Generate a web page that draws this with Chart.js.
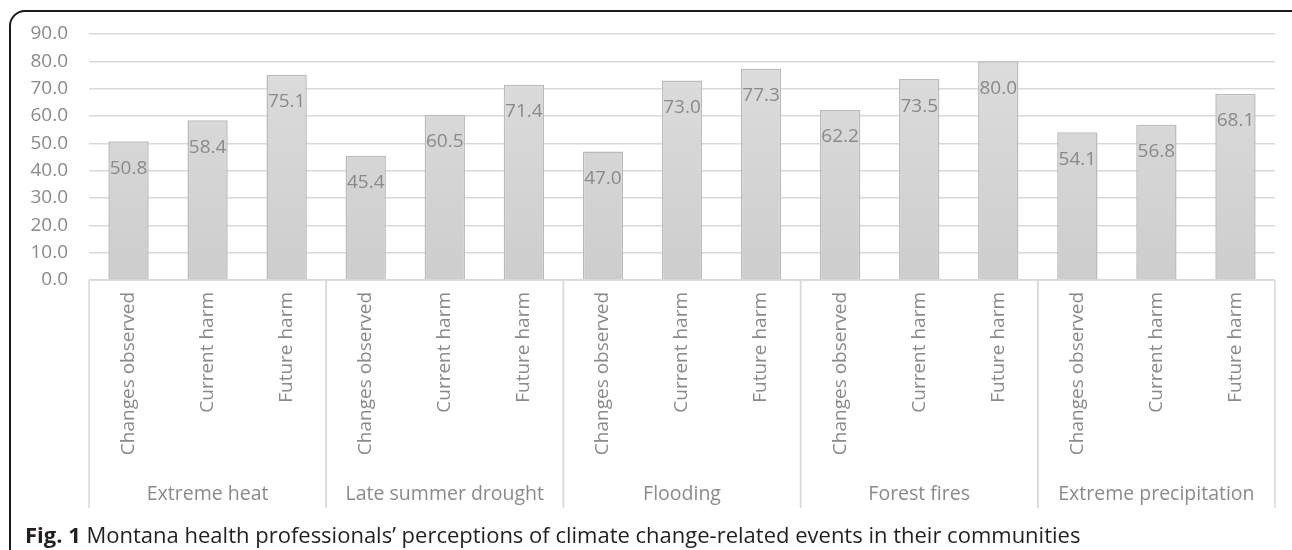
<!DOCTYPE html>
<html>
<head>
<meta charset="utf-8">
<script src="https://cdn.jsdelivr.net/npm/chart.js@4.4.1/dist/chart.umd.min.js"></script>
<style>
  html, body { margin: 0; padding: 0; background: #fff; }
  #wrap { position: relative; width: 1292px; height: 550px; overflow: hidden; }
  #frame {
    position: absolute; left: 9px; top: 10px; width: 1300px; height: 560px;
    border: 2px solid #1a1a1a; border-radius: 16px 16px 0 0; box-sizing: border-box;
  }
  #chart-box { position: absolute; left: 10px; top: 0; width: 1282px; height: 550px; }
  #caption {
    position: absolute; left: 25px; top: 519px; font-family: "Open Sans", sans-serif;
    font-size: 22px; letter-spacing: 0; color: #231f20; white-space: nowrap;
  }
</style>
</head>
<body>
<div id="wrap">
  <div id="frame"></div>
  <div id="chart-box"><canvas id="chart"></canvas></div>
  <div id="caption"><b>Fig. 1</b> Montana health professionals’ perceptions of climate change-related events in their communities</div>
</div>
<script>
// Event groups and the three measures asked for each
const groups = ['Extreme heat', 'Late summer drought', 'Flooding', 'Forest fires', 'Extreme precipitation'];
const measures = ['Changes observed', 'Current harm', 'Future harm'];
const percentages = [50.8, 58.4, 75.1, 45.4, 60.5, 71.4, 47.0, 73.0, 77.3, 62.2, 73.5, 80.0, 54.1, 56.8, 68.1];
const yTicks = [0, 10, 20, 30, 40, 50, 60, 70, 80, 90];

const labels = [];
groups.forEach(() => measures.forEach(m => labels.push(m)));

const textGrey = '#8a8a8a';
const fontFamily = '"Open Sans", sans-serif';

// value labels inside the top of each bar
const valueLabels = {
  id: 'valueLabels',
  afterDatasetsDraw(chart) {
    const { ctx } = chart;
    const meta = chart.getDatasetMeta(0);
    ctx.save();
    ctx.font = '19px ' + fontFamily;
    ctx.fillStyle = textGrey;
    ctx.textAlign = 'center';
    ctx.textBaseline = 'middle';
    meta.data.forEach((bar, i) => {
      ctx.fillText(percentages[i].toFixed(1), bar.x, bar.y + 27);
    });
    ctx.restore();
  }
};

// group labels and separators under the category axis
const groupAxis = {
  id: 'groupAxis',
  afterDraw(chart) {
    const { ctx, chartArea } = chart;
    const x = chart.scales.x;
    const half = (x.getPixelForValue(1) - x.getPixelForValue(0)) / 2;
    ctx.save();
    ctx.strokeStyle = '#d9d9d9';
    ctx.lineWidth = 1.5;
    ctx.font = '19.5px ' + fontFamily;
    ctx.fillStyle = textGrey;
    ctx.textAlign = 'center';
    ctx.textBaseline = 'middle';
    groups.forEach((g, gi) => {
      const first = gi * measures.length;
      const last = first + measures.length - 1;
      const left = x.getPixelForValue(first) - half;
      const right = x.getPixelForValue(last) + half;
      [left, right].forEach(px => {
        ctx.beginPath();
        ctx.moveTo(px, chartArea.bottom);
        ctx.lineTo(px, 508);
        ctx.stroke();
      });
      ctx.fillText(g, (left + right) / 2, 494);
    });
    // baseline of the category axis
    ctx.beginPath();
    ctx.moveTo(chartArea.left, chartArea.bottom);
    ctx.lineTo(chartArea.right, chartArea.bottom);
    ctx.stroke();
    ctx.restore();
  }
};

new Chart(document.getElementById('chart'), {
  type: 'bar',
  data: {
    labels: labels,
    datasets: [{
      data: percentages,
      borderColor: '#bababa',
      borderWidth: 1.5,
      borderSkipped: 'bottom',
      backgroundColor: (context) => {
        const { ctx, chartArea } = context.chart;
        if (!chartArea) return '#d6d6d6';
        const gradient = ctx.createLinearGradient(0, chartArea.top, 0, chartArea.bottom);
        gradient.addColorStop(0, '#dedede');
        gradient.addColorStop(1, '#cdcdcd');
        return gradient;
      },
      barPercentage: 0.51,
      categoryPercentage: 1
    }]
  },
  options: {
    responsive: true,
    maintainAspectRatio: false,
    animation: false,
    layout: { padding: { top: 34, right: 17, bottom: 0, left: 0 } },
    plugins: {
      legend: { display: false },
      tooltip: { enabled: false }
    },
    scales: {
      x: {
        grid: { display: false },
        border: { display: false },
        afterFit: (scale) => { scale.height = 270; },
        ticks: {
          minRotation: 90,
          maxRotation: 90,
          padding: 4,
          autoSkip: false,
          color: textGrey,
          font: { family: fontFamily, size: 19 }
        }
      },
      y: {
        min: 0,
        max: 90,
        afterFit: (scale) => { scale.width = 79; },
        afterBuildTicks: (scale) => { scale.ticks = yTicks.map(v => ({ value: v })); },
        grid: { color: '#d9d9d9', lineWidth: 1.5, drawTicks: false },
        border: { display: false },
        ticks: {
          padding: 21,
          color: textGrey,
          font: { family: fontFamily, size: 19 },
          callback: (v) => v.toFixed(1)
        }
      }
    }
  },
  plugins: [valueLabels, groupAxis]
});
</script>
</body>
</html>
